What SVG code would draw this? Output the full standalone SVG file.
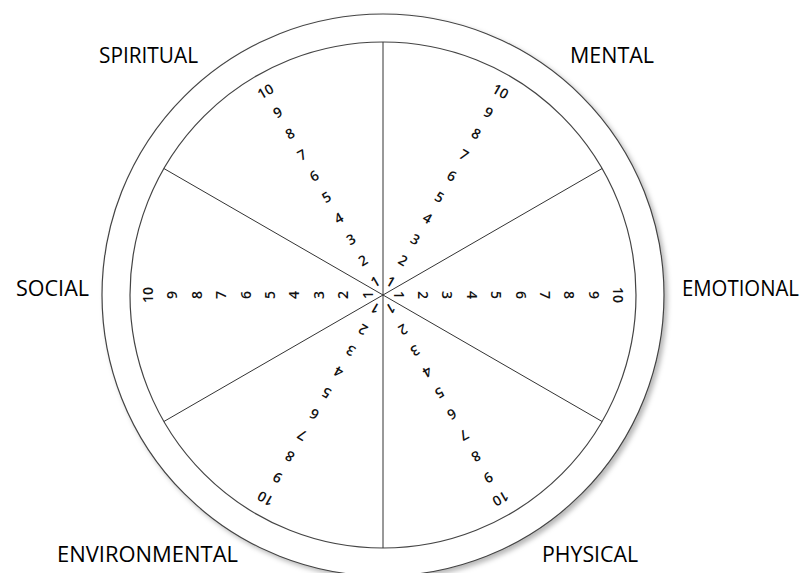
<svg xmlns="http://www.w3.org/2000/svg" width="806" height="573" viewBox="0 0 806 573">
<defs>
<filter id="sh" x="-10%" y="-10%" width="120%" height="120%">
<feDropShadow dx="3" dy="3" stdDeviation="2.5" flood-color="#000" flood-opacity="0.28"/>
</filter>
</defs>
<style>
.ring{fill:#fff;stroke:#444;stroke-width:1.2}
.spoke{stroke:#333;stroke-width:1;fill:none}
.lbl{font-family:"Open Sans","Liberation Sans",sans-serif;font-size:21px;fill:#000}
.num{font-family:"Open Sans","Liberation Sans",sans-serif;font-size:14px;font-weight:600;fill:#111;text-anchor:middle;dominant-baseline:central}
</style>
<rect width="806" height="573" fill="#fff"/>
<g id="wheel">
<circle class="ring" cx="383" cy="295" r="281" filter="url(#sh)"/>
<circle class="ring" cx="383" cy="295" r="253"/>
</g>
<g id="connectors">
<line class="spoke" x1="383" y1="42" x2="383" y2="548"/>
<line class="spoke" x1="163.9" y1="168.5" x2="602.1" y2="421.5"/>
<line class="spoke" x1="602.1" y1="168.5" x2="163.9" y2="421.5"/>
</g>
<g id="scale-emotional" transform="translate(383 295) rotate(90)">
<text class="num" x="0" y="-16">1</text><text class="num" x="0" y="-40.4">2</text><text class="num" x="0" y="-64.8">3</text><text class="num" x="0" y="-89.2">4</text><text class="num" x="0" y="-113.6">5</text><text class="num" x="0" y="-138">6</text><text class="num" x="0" y="-162.4">7</text><text class="num" x="0" y="-186.8">8</text><text class="num" x="0" y="-211.2">9</text><text class="num" x="0" y="-235.6">10</text>
</g>
<g id="scale-mental" transform="translate(383 295) rotate(30)">
<text class="num" x="0" y="-16">1</text><text class="num" x="0" y="-40.4">2</text><text class="num" x="0" y="-64.8">3</text><text class="num" x="0" y="-89.2">4</text><text class="num" x="0" y="-113.6">5</text><text class="num" x="0" y="-138">6</text><text class="num" x="0" y="-162.4">7</text><text class="num" x="0" y="-186.8">8</text><text class="num" x="0" y="-211.2">9</text><text class="num" x="0" y="-235.6">10</text>
</g>
<g id="scale-spiritual" transform="translate(383 295) rotate(-30)">
<text class="num" x="0" y="-16">1</text><text class="num" x="0" y="-40.4">2</text><text class="num" x="0" y="-64.8">3</text><text class="num" x="0" y="-89.2">4</text><text class="num" x="0" y="-113.6">5</text><text class="num" x="0" y="-138">6</text><text class="num" x="0" y="-162.4">7</text><text class="num" x="0" y="-186.8">8</text><text class="num" x="0" y="-211.2">9</text><text class="num" x="0" y="-235.6">10</text>
</g>
<g id="scale-social" transform="translate(383 295) rotate(-90)">
<text class="num" x="0" y="-16">1</text><text class="num" x="0" y="-40.4">2</text><text class="num" x="0" y="-64.8">3</text><text class="num" x="0" y="-89.2">4</text><text class="num" x="0" y="-113.6">5</text><text class="num" x="0" y="-138">6</text><text class="num" x="0" y="-162.4">7</text><text class="num" x="0" y="-186.8">8</text><text class="num" x="0" y="-211.2">9</text><text class="num" x="0" y="-235.6">10</text>
</g>
<g id="scale-environmental" transform="translate(383 295) rotate(-150)">
<text class="num" x="0" y="-16">1</text><text class="num" x="0" y="-40.4">2</text><text class="num" x="0" y="-64.8">3</text><text class="num" x="0" y="-89.2">4</text><text class="num" x="0" y="-113.6">5</text><text class="num" x="0" y="-138">6</text><text class="num" x="0" y="-162.4">7</text><text class="num" x="0" y="-186.8">8</text><text class="num" x="0" y="-211.2">9</text><text class="num" x="0" y="-235.6">10</text>
</g>
<g id="scale-physical" transform="translate(383 295) rotate(150)">
<text class="num" x="0" y="-16">1</text><text class="num" x="0" y="-40.4">2</text><text class="num" x="0" y="-64.8">3</text><text class="num" x="0" y="-89.2">4</text><text class="num" x="0" y="-113.6">5</text><text class="num" x="0" y="-138">6</text><text class="num" x="0" y="-162.4">7</text><text class="num" x="0" y="-186.8">8</text><text class="num" x="0" y="-211.2">9</text><text class="num" x="0" y="-235.6">10</text>
</g>
<g id="label-spiritual"><text class="lbl" x="99" y="63" textLength="99" lengthAdjust="spacingAndGlyphs">SPIRITUAL</text></g>
<g id="label-mental"><text class="lbl" x="570" y="63" textLength="84" lengthAdjust="spacingAndGlyphs">MENTAL</text></g>
<g id="label-social"><text class="lbl" x="16" y="296" textLength="73" lengthAdjust="spacingAndGlyphs">SOCIAL</text></g>
<g id="label-emotional"><text class="lbl" x="682" y="296" textLength="117" lengthAdjust="spacingAndGlyphs">EMOTIONAL</text></g>
<g id="label-environmental"><text class="lbl" x="57" y="562" textLength="181" lengthAdjust="spacingAndGlyphs">ENVIRONMENTAL</text></g>
<g id="label-physical"><text class="lbl" x="542" y="562" textLength="96" lengthAdjust="spacingAndGlyphs">PHYSICAL</text></g>
</svg>
